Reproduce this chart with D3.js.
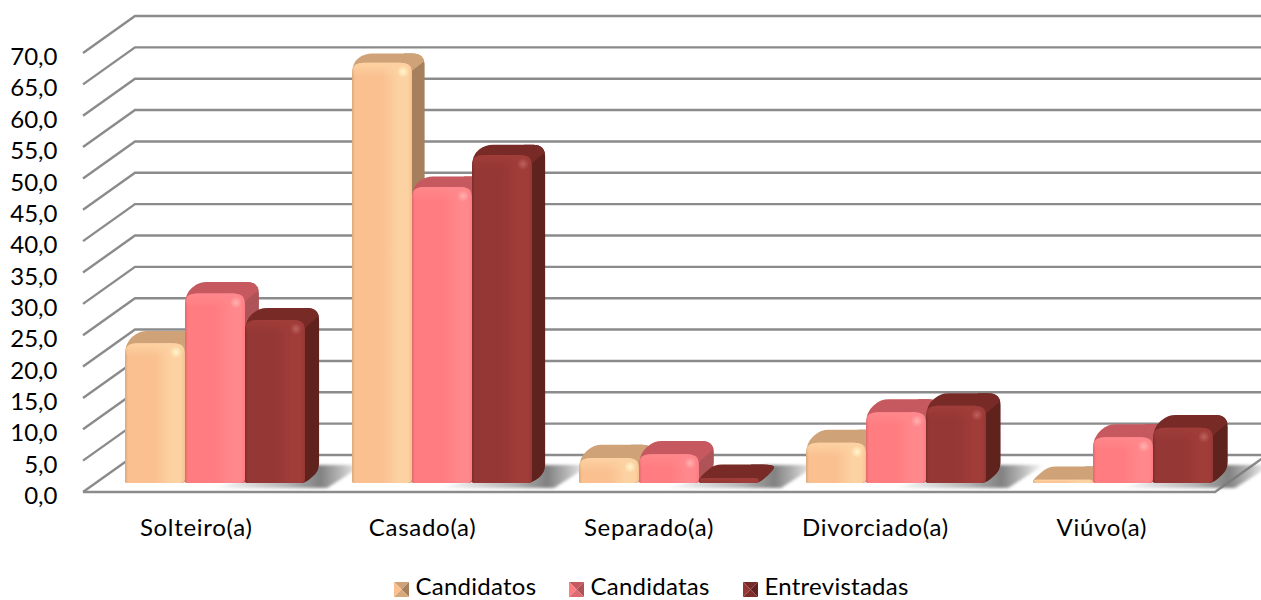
<!DOCTYPE html>
<html><head><meta charset="utf-8">
<script src="https://cdnjs.cloudflare.com/ajax/libs/d3/7.8.5/d3.min.js"></script>
<style>html,body{margin:0;padding:0;background:#fff}svg{display:block}
text{font-family:Lato,"Open Sans",sans-serif;fill:#000}</style>
</head><body><svg id="c" width="1261" height="600"></svg>
<script>
const categories=["Solteiro(a)","Casado(a)","Separado(a)","Divorciado(a)","Viúvo(a)"];
const seriesNames=["Candidatos","Candidatas","Entrevistadas"];
const candidatos=[22.3,67.0,4.0,6.4,0.5];
const candidatas=[30.2,47.2,4.6,11.3,7.3];
const entrevistadas=[26.0,52.3,0.8,12.3,8.8];
const seriesValues=[candidatos,candidatas,entrevistadas];
const yTicks=d3.range(0,70.1,5);
const palette=[
 {front:"#FAC090",light:"#FDD2A2",edge:"#D9A87A",top:"#CFA277",side:"#A67F5D",hi:"#FFF6CC"},
 {front:"#FF7C80",light:"#FF888C",edge:"#DD6A70",top:"#C6595F",side:"#AE5258",hi:"#FFB0B0"},
 {front:"#953735",light:"#A03C39",edge:"#7C2D2B",top:"#772A27",side:"#5F201F",hi:"#BC625E"}];

const svg=d3.select("#c"),defs=svg.append("defs");
const X0=83,X1=1215,Y0=492,Y70=53,WX=52,WY=37;
const y=d3.scaleLinear().domain([0,70]).range([Y0,Y70]);
const yBar=d3.scaleLinear().domain([0,70]).range([483,483-(Y0-Y70)]);
const depthY=d3.scaleLinear().domain([0,70]).range([13.5,9]);
const depthX=d3.scaleLinear().domain([0,70]).range([15,12.5]);
const xLab=d3.scaleBand().domain(categories).range([X0,X1]);
const xGroup=d3.scaleBand().domain(categories).range([101.5,1236.5]);
const groupW=180;
const xSer=d3.scaleBand().domain(seriesNames).range([0,groupW]);

function roundPoly(pts){
 const n=pts.length;let d="";
 pts.forEach((p,i)=>{
  const a=pts[(i+n-1)%n],b=pts[(i+1)%n];
  const la=Math.hypot(a[0]-p[0],a[1]-p[1])||1,lb=Math.hypot(b[0]-p[0],b[1]-p[1])||1;
  const ra=Math.min(p[2],la/2),rb=Math.min(p[2],lb/2);
  const s=[p[0]+(a[0]-p[0])*ra/la,p[1]+(a[1]-p[1])*ra/la],e=[p[0]+(b[0]-p[0])*rb/lb,p[1]+(b[1]-p[1])*rb/lb];
  d+=(i?"L":"M")+s[0]+","+s[1]+"Q"+p[0]+","+p[1]+" "+e[0]+","+e[1];
 });
 return d+"Z";
}

palette.forEach((p,i)=>{
 const g=defs.append("linearGradient").attr("id","f"+i);
 [[0,p.edge],[.05,p.front],[.5,p.front],[.78,p.light],[.93,p.light],[1,p.front]].forEach(s=>g.append("stop").attr("offset",s[0]).attr("stop-color",s[1]));
 const t=defs.append("linearGradient").attr("id","t"+i).attr("x1",0).attr("x2",0).attr("y1",0).attr("y2",1);
 t.append("stop").attr("offset",0).attr("stop-color",p.light).attr("stop-opacity",1);
 t.append("stop").attr("offset",1).attr("stop-color",p.light).attr("stop-opacity",0);
 const h=defs.append("radialGradient").attr("id","h"+i);
 h.append("stop").attr("offset",0).attr("stop-color",p.hi).attr("stop-opacity",1);
 h.append("stop").attr("offset",1).attr("stop-color",p.hi).attr("stop-opacity",0);
});
const sg=defs.append("linearGradient").attr("id","sh");
[[0,0],[.5,.55],[.72,.95],[.85,.55],[1,0]].forEach(s=>sg.append("stop").attr("offset",s[0]).attr("stop-color","#7a7a7a").attr("stop-opacity",s[1]));
defs.append("filter").attr("id","bl").attr("x","-20%").attr("y","-50%").attr("width","140%").attr("height","200%")
 .append("feGaussianBlur").attr("stdDeviation",1.6);
defs.append("filter").attr("id","soft").attr("x","-10%").attr("y","-10%").attr("width","120%").attr("height","120%")
 .append("feGaussianBlur").attr("stdDeviation",.6);

const grid=svg.append("g").attr("stroke","#8b8b8b").attr("stroke-width",2.4).attr("fill","none");
grid.selectAll("path.g").data(yTicks).join("path")
 .attr("d",v=>`M${X0},${y(v)}L${X0+WX},${y(v)-WY}L1261,${y(v)-WY}`);
grid.append("path").attr("d",`M${X0},${Y0}L${X1},${Y0}L${X1+WX},${Y0-WY}`);

svg.append("g").selectAll("path").data(categories).join("path")
 .attr("fill","url(#sh)").attr("filter","url(#bl)")
 .attr("d",c=>{const l=xGroup(c)+xGroup.bandwidth()/2-groupW/2,r=l+groupW;
  return `M${l+85},488L${r+22},488L${r+58},465L${r+8},465Z`;});

let uid=0;
function bar(g,i,v,c){
 const p=palette[i],l=xGroup(c)+xGroup.bandwidth()/2-groupW/2+xSer(seriesNames[i]);
 const w=xSer.bandwidth(),b=yBar(0),t=yBar(v),dy=depthY(v),DX=depthX(v),r=l+w,R=12;
 const h=Math.max(b-t,1),rf=Math.min(R,h*.8),id="cl"+(uid++);
 defs.append("clipPath").attr("id",id).append("path")
  .attr("d",roundPoly([[l,b,2],[l,t,Math.max(rf,6)],[l+DX,t-dy,8],[r+DX,t-dy,12],[r+DX,b-dy,8],[r,b,6]]));
 const s=g.append("g").attr("filter","url(#soft)");
 const c2=s.append("g").attr("clip-path",`url(#${id})`);
 c2.append("path").attr("fill",p.side).attr("d",`M${r-8},${t-dy-2}L${r+DX+2},${t-dy-2}L${r+DX+2},${b}L${r-8},${b}Z`);
 c2.append("path").attr("fill",p.top).attr("d",`M${l-2},${b}L${l-2},${t-dy-2}L${r+DX+2},${t-dy-2}L${r+DX+2},${t-dy+6}L${r},${Math.min(t+8,b)}L${r},${b}Z`);
 s.append("path").attr("d",roundPoly([[l,b,2.5],[l,t,rf],[r,t,rf],[r,b,Math.min(5,h/2)]])).attr("fill",`url(#f${i})`);
 const bv=Math.min(14,h);
 s.append("path").attr("d",roundPoly([[l+.5,t+bv,0],[l+.5,t,rf],[r-.5,t,rf],[r-.5,t+bv,0]])).attr("fill",`url(#t${i})`);
 if(h>7) s.append("circle").attr("cx",r-9).attr("cy",t+Math.min(9,h/2)).attr("r",6).attr("fill",`url(#h${i})`);
}
const bars=svg.append("g");
categories.forEach((c,k)=>seriesValues.forEach((vals,i)=>bar(bars,i,vals[k],c)));

const yAxis=d3.axisLeft(y).tickValues(yTicks).tickSize(0).tickPadding(0).tickFormat(v=>d3.format(".1f")(v).replace(".",","));
const ya=svg.append("g").attr("transform","translate(57.5,3)").call(yAxis);
ya.select(".domain").remove();
ya.selectAll("text").style("font-size","24px").style("font-family","Lato").attr("dy","0.36em");

const xAxis=d3.axisBottom(xLab).tickSize(0).tickPadding(0);
const xa=svg.append("g").attr("transform","translate(0,518)").call(xAxis);
xa.select(".domain").remove();
xa.selectAll("text").style("font-size","24px").style("font-family","Lato").style("letter-spacing","0.7px").attr("dy","0.75em");

const legX=[394,569,743];
const lg=svg.append("g").selectAll("g").data(seriesNames).join("g")
 .attr("transform",(d,i)=>`translate(${legX[i]},582)`);
lg.each(function(d,i){
 const g=d3.select(this),p=palette[i],S=15;
 [[`M0,0L${S},0L${S/2},${S/2}Z`,p.top],[`M0,0L0,${S}L${S/2},${S/2}Z`,p.front],[`M${S},0L${S},${S}L${S/2},${S/2}Z`,p.side],[`M0,${S}L${S},${S}L${S/2},${S/2}Z`,p.edge]]
  .forEach(t=>g.append("path").attr("d",t[0]).attr("fill",t[1]));
 g.append("text").attr("x",21.5).attr("y",13).style("font-size","24px").style("letter-spacing","0.25px").text(d);
});
</script></body></html>
